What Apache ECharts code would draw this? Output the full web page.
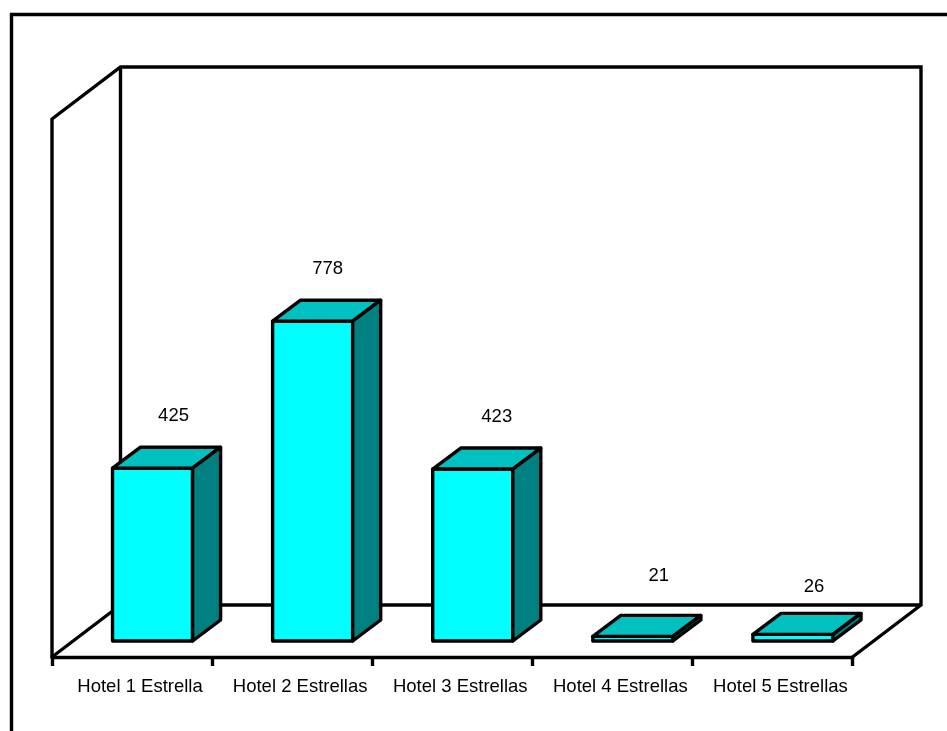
<!DOCTYPE html>
<html>
<head>
<meta charset="utf-8">
<style>html,body{margin:0;padding:0;background:#fff}#c{width:947px;height:731px}</style>
<script src="https://cdn.jsdelivr.net/npm/echarts@6/dist/echarts.min.js"></script>
</head>
<body>
<div id="c"></div>
<script>
const categories = ['Hotel 1 Estrella', 'Hotel 2 Estrellas', 'Hotel 3 Estrellas', 'Hotel 4 Estrellas', 'Hotel 5 Estrellas'];
const hotels = [425, 778, 423, 21, 26];

// Axis range of the original (its floor sits slightly above zero)
const AXIS_MIN = 10;
const AXIS_MAX = 1302;

// Fake-3D projection, in pixels
const FLOOR_DX = 68.5, FLOOR_DY = 52;
const BAR_SHIFT_X = 20.5, BAR_SHIFT_Y = 16, BAR_DX = 28, BAR_DY = 21;
const BAR_RATIO = 0.5, STROKE = 3.4;
const FONT = '18.5px "Liberation Sans", Arial, sans-serif';

// The original's data labels were hand placed: offset from the bar's top-back centre
const LABEL_NUDGE = [[7, -31], [1, -31], [10, -31.5], [12, -40], [7, -26]];

const lineStyle = { fill: 'none', stroke: '#000', lineWidth: STROKE, lineJoin: 'miter' };

function renderWalls(params, api) {
  const band = api.size([1, 0])[0];
  const bl = api.coord([0, AXIS_MIN]);
  const br = api.coord([categories.length - 1, AXIS_MIN]);
  const tl = api.coord([0, AXIS_MAX]);
  const x0 = bl[0] - band / 2, x1 = br[0] + band / 2, y0 = bl[1], y1 = tl[1];
  const bx0 = x0 + FLOOR_DX, bx1 = x1 + FLOOR_DX, by0 = y0 - FLOOR_DY, by1 = y1 - FLOOR_DY;
  const poly = pts => ({ type: 'polyline', shape: { points: pts }, style: lineStyle });
  return {
    type: 'group',
    children: [
      poly([[x0, y0], [x0, y1], [bx0, by1], [bx1, by1], [bx1, by0], [x1, y0]]),
      poly([[bx0, by1], [bx0, by0], [bx1, by0]]),
      poly([[x0, y0], [bx0, by0]])
    ]
  };
}

function renderBar(params, api) {
  const i = api.value(0), v = api.value(1);
  const top = api.coord([i, v]);
  const base = api.coord([i, AXIS_MIN]);
  const w = api.size([1, 0])[0] * BAR_RATIO;
  const l = top[0] - w / 2 + BAR_SHIFT_X, r = l + w;
  const t = top[1] - BAR_SHIFT_Y, b = base[1] - BAR_SHIFT_Y;
  const face = (pts, fill) => ({
    type: 'polygon', shape: { points: pts },
    style: { fill: fill, stroke: '#000', lineWidth: STROKE, lineJoin: 'round' }
  });
  const nudge = LABEL_NUDGE[i];
  return {
    type: 'group',
    children: [
      face([[l, b], [r, b], [r, t], [l, t]], '#00FFFF'),
      face([[l, t], [r, t], [r + BAR_DX, t - BAR_DY], [l + BAR_DX, t - BAR_DY]], '#00C0C0'),
      face([[r, b], [r + BAR_DX, b - BAR_DY], [r + BAR_DX, t - BAR_DY], [r, t]], '#008080'),
      {
        type: 'text',
        style: {
          x: (l + r) / 2 + BAR_DX / 2 + nudge[0],
          y: t - BAR_DY + nudge[1],
          text: String(v),
          font: FONT,
          fill: '#000',
          align: 'center',
          verticalAlign: 'middle'
        }
      }
    ]
  };
}

const chart = echarts.init(document.getElementById('c'), null, { renderer: 'canvas' });
chart.setOption({
  animation: false,
  backgroundColor: '#fff',
  grid: { left: 52, right: 94.5, top: 119, bottom: 74 },
  xAxis: {
    type: 'category',
    data: categories,
    boundaryGap: true,
    axisLine: { show: true, lineStyle: { color: '#000', width: STROKE } },
    axisTick: { show: true, length: 9, alignWithLabel: false, interval: 0, lineStyle: { color: '#000', width: STROKE } },
    axisLabel: { interval: 0, margin: 20, padding: [0, 0, 0, 16], color: '#000', fontSize: 18.5, fontFamily: '"Liberation Sans", Arial, sans-serif' },
    splitLine: { show: false }
  },
  yAxis: { type: 'value', min: AXIS_MIN, max: AXIS_MAX, show: false, splitLine: { show: false } },
  graphic: [{
    type: 'polyline',
    silent: true,
    shape: { points: [[11.5, 735], [11.5, 14.5], [951, 14.5]] },
    style: { fill: 'none', stroke: '#000', lineWidth: STROKE }
  }],
  series: [
    { type: 'custom', silent: true, z: 1, renderItem: renderWalls, data: [[0, AXIS_MIN]], encode: { x: 0, y: 1 } },
    { type: 'custom', silent: true, z: 5, renderItem: renderBar, data: hotels.map((v, i) => [i, v]), encode: { x: 0, y: 1 } }
  ]
});
</script>
</body>
</html>
